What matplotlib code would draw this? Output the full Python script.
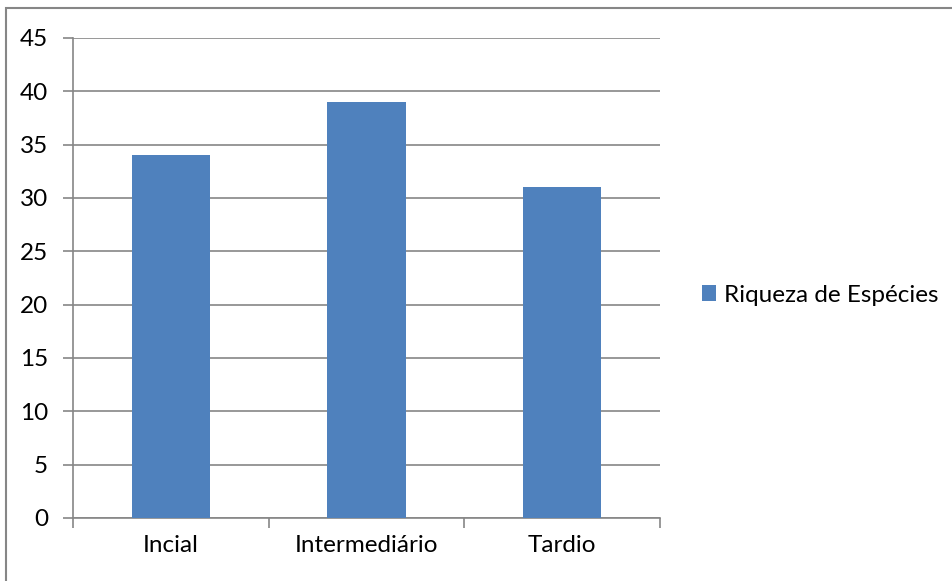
import matplotlib.pyplot as plt
from matplotlib.patches import Rectangle

categories = ["Incial", "Intermediário", "Tardio"]
values = [34, 39, 31]
series_name = "Riqueza de Espécies"

plt.rcParams["font.family"] = ["Lato", "DejaVu Sans"]

fig = plt.figure(figsize=(9.52, 5.81), dpi=100)
ax = fig.add_axes([73 / 952, 1 - 518 / 581, (660 - 73) / 952, (518 - 38) / 581])

grid_color = "#868686"
bar_color = "#4F81BD"
fs = 17.5

x = range(len(categories))
ax.bar(x, values, width=0.4, color=bar_color, zorder=3, label=series_name)

ax.set_xlim(-0.5, 2.5)
ax.set_ylim(0, 45)
ax.set_yticks(range(0, 46, 5))
ax.set_xticks([-0.5, 0.5, 1.5, 2.5])
ax.set_xticklabels([])
ax.set_xticks(list(x), minor=True)
ax.set_xticklabels(categories, minor=True)
ax.tick_params(axis="x", which="minor", length=0, pad=12, labelsize=fs)
ax.tick_params(axis="x", which="major", length=7, color=grid_color, width=1.2)
ax.tick_params(axis="y", length=7, color=grid_color, width=1.2, labelsize=fs, pad=11)

ax.yaxis.grid(True, color=grid_color, linewidth=1.2, zorder=0)
ax.set_axisbelow(True)
for side in ["top", "right"]:
    ax.spines[side].set_visible(False)
for side in ["left", "bottom"]:
    ax.spines[side].set_color(grid_color)
    ax.spines[side].set_linewidth(1.2)

ax.legend(
    loc="center left",
    bbox_to_anchor=(680 / 952, 1 - 295 / 581),
    bbox_transform=fig.transFigure,
    frameon=False,
    fontsize=fs,
    handlelength=0.6,
    handleheight=0.6,
    handletextpad=0.3,
)

# outer chart border (only left and top visible in the crop)
fig.patches.append(
    Rectangle((6 / 952, -0.1), 1.2, 1.1 - 8 / 581, transform=fig.transFigure,
              fill=False, edgecolor=grid_color, linewidth=1.5)
)

fig.savefig("out.png", dpi=100)
